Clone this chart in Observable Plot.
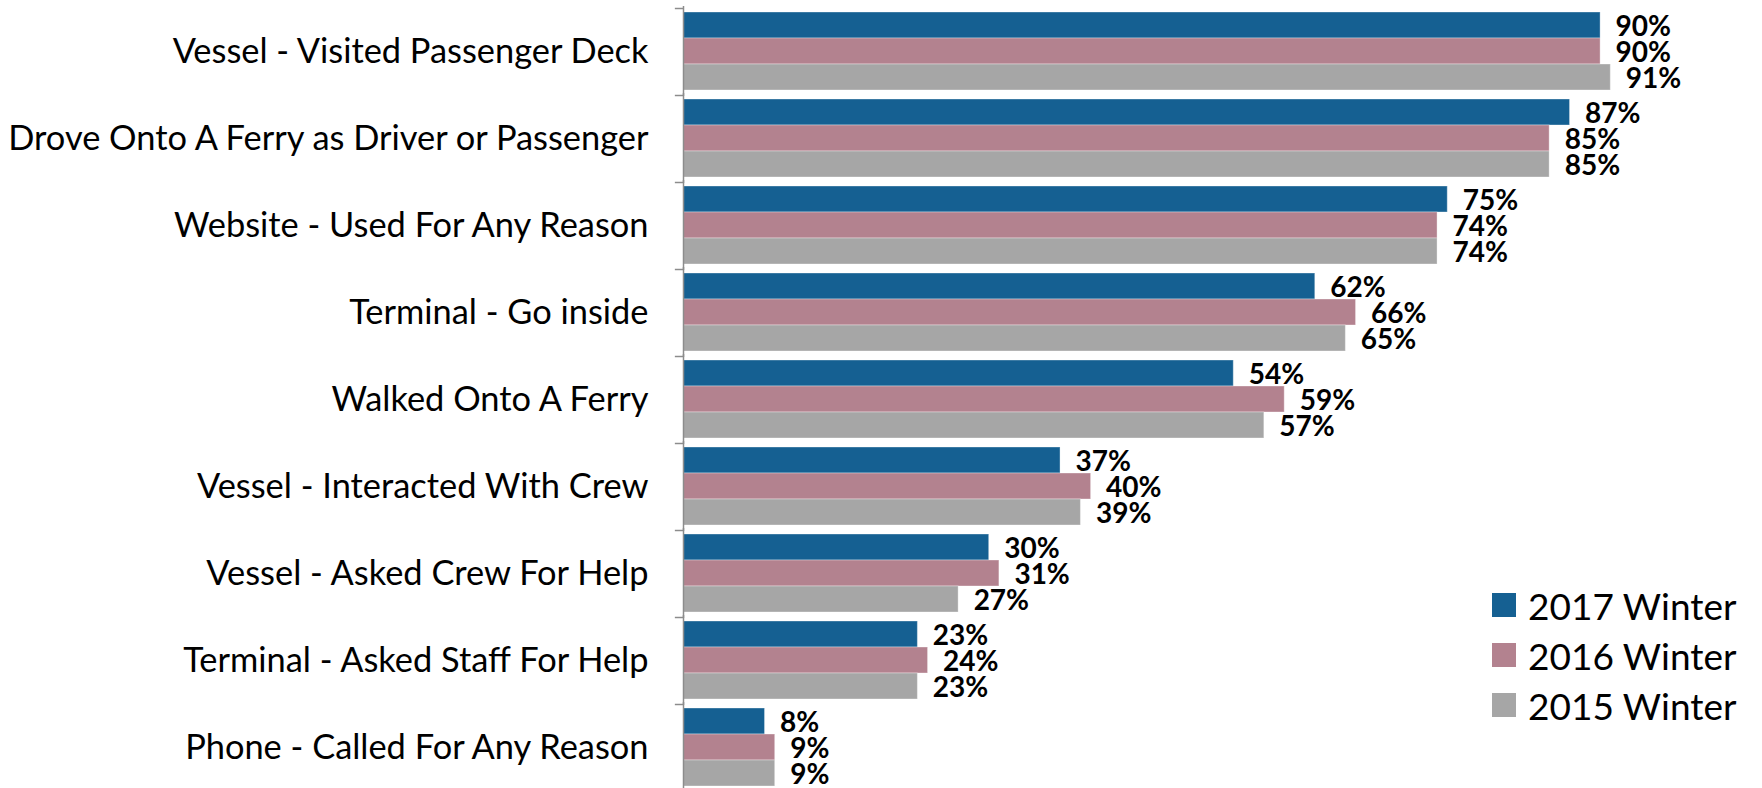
<!DOCTYPE html>
<html>
<head>
<meta charset="utf-8">
<script src="https://cdn.jsdelivr.net/npm/d3@7"></script>
<script src="https://cdn.jsdelivr.net/npm/@observablehq/plot@0.6"></script>
<style>
  html, body { margin: 0; padding: 0; background: #fff; }
  #wrap { position: relative; width: 1762px; height: 788px; overflow: hidden; font-family: Lato, "Open Sans", sans-serif; }
  #legend { position: absolute; left: 1492px; top: 580px; }
  .row { display: flex; align-items: center; height: 50px; }
  .sw { width: 24px; height: 24px; margin-right: 12px; }
  .lab { font-size: 37px; color: #000; line-height: 1; }
</style>
</head>
<body>
<div id="wrap"></div>
<script>
const categories = [
  "Vessel - Visited Passenger Deck",
  "Drove Onto A Ferry as Driver or Passenger",
  "Website - Used For Any Reason",
  "Terminal - Go inside",
  "Walked Onto A Ferry",
  "Vessel - Interacted With Crew",
  "Vessel - Asked Crew For Help",
  "Terminal - Asked Staff For Help",
  "Phone - Called For Any Reason"
];
const series = ["2017 Winter", "2016 Winter", "2015 Winter"];
const colors = ["#156092", "#b3828f", "#a6a6a6"];
const values2017 = [90, 87, 75, 62, 54, 37, 30, 23, 8];
const values2016 = [90, 85, 74, 66, 59, 40, 31, 24, 9];
const values2015 = [91, 85, 74, 65, 57, 39, 27, 23, 9];

const seriesValues = [values2017, values2016, values2015];
const rows = categories.flatMap((c, i) =>
  series.map((s, j) => ({category: c, series: s, value: seriesValues[j][i]}))
);

const chart = Plot.plot({
  width: 1762,
  height: 788,
  marginLeft: 683,
  marginRight: 60,
  marginTop: 7,
  marginBottom: -3,
  style: {fontFamily: "Lato, 'Open Sans', sans-serif", color: "#000", background: "#fff"},
  x: {domain: [0, 100], axis: null},
  y: {domain: series, axis: null, padding: 0},
  fy: {domain: categories, paddingInner: 0.082, paddingOuter: 0.041, label: null},
  color: {domain: series, range: colors},
  marks: [
    Plot.barX(rows, {fy: "category", y: "series", x: "value", fill: "series", stroke: "#ffffff", strokeOpacity: 0.35, strokeWidth: 1}),
    Plot.text(rows, {fy: "category", y: "series", x: "value", text: d => d.value + "%", textAnchor: "start", dx: 15, dy: 2, fontWeight: "bold", fontSize: 28, fill: "#000"}),
    Plot.ruleX([0], {stroke: "#8c8c8c", strokeWidth: 1.5, insetTop: -5, insetBottom: -5}),
    Plot.ruleY(categories, {fy: d => d, y: () => series[0], x1: -0.8, x2: 0, dy: -17, stroke: "#8c8c8c", strokeWidth: 1.5}),
    Plot.axisFy({anchor: "left", tickSize: 0, tickPadding: 35, fontSize: 34.4, label: null, fill: "#000"})
  ]
});

const wrap = document.getElementById("wrap");
wrap.appendChild(chart);

const legend = document.createElement("div");
legend.id = "legend";
series.forEach((s, j) => {
  const row = document.createElement("div");
  row.className = "row";
  const sw = document.createElement("div");
  sw.className = "sw";
  sw.style.background = colors[j];
  const lab = document.createElement("span");
  lab.className = "lab";
  lab.textContent = s;
  row.appendChild(sw);
  row.appendChild(lab);
  legend.appendChild(row);
});
wrap.appendChild(legend);
</script>
</body>
</html>
